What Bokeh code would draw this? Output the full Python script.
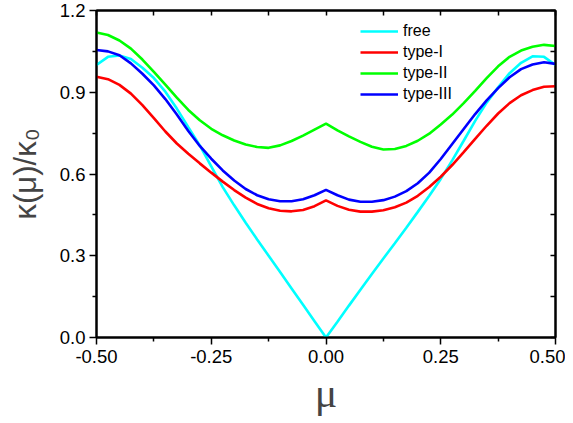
from bokeh.plotting import figure
from bokeh.models import (Range1d, LinearAxis, FixedTicker, PrintfTickFormatter,
                          Legend, LegendItem)
from bokeh.embed import file_html
from bokeh.resources import INLINE

# ---- data ----
mu = [-0.5, -0.475, -0.45, -0.425, -0.4, -0.375, -0.35, -0.325, -0.3, -0.275,
      -0.25, -0.225, -0.2, -0.175, -0.15, -0.125, -0.1, -0.075, -0.05, -0.025,
      0.0, 0.025, 0.05, 0.075, 0.1, 0.125, 0.15, 0.175, 0.2, 0.225,
      0.25, 0.275, 0.3, 0.325, 0.35, 0.375, 0.4, 0.425, 0.45, 0.475, 0.5]

free = [1.000, 1.030, 1.035, 1.022, 0.990, 0.952, 0.902, 0.840, 0.772, 0.705,
        0.628, 0.552, 0.485, 0.421, 0.360, 0.300, 0.240, 0.180, 0.120, 0.060,
        0.0, 0.058, 0.117, 0.175, 0.233, 0.290, 0.346, 0.403, 0.461, 0.520,
        0.582, 0.650, 0.722, 0.795, 0.862, 0.918, 0.970, 1.008, 1.032, 1.030, 1.000]

type_I = [0.957, 0.948, 0.927, 0.895, 0.853, 0.805, 0.756, 0.712, 0.674, 0.639,
          0.605, 0.572, 0.541, 0.513, 0.490, 0.474, 0.465, 0.463, 0.468, 0.482,
          0.503, 0.483, 0.469, 0.462, 0.462, 0.467, 0.478, 0.495, 0.520, 0.552,
          0.590, 0.633, 0.680, 0.729, 0.777, 0.822, 0.860, 0.889, 0.908, 0.920, 0.922]

type_II = [1.119, 1.110, 1.090, 1.060, 1.020, 0.975, 0.928, 0.880, 0.835, 0.797,
           0.766, 0.742, 0.723, 0.708, 0.699, 0.696, 0.705, 0.721, 0.741, 0.763,
           0.785, 0.760, 0.738, 0.718, 0.700, 0.690, 0.692, 0.703, 0.722, 0.748,
           0.782, 0.818, 0.860, 0.905, 0.952, 0.995, 1.030, 1.053, 1.067, 1.074, 1.070]

type_III = [1.055, 1.050, 1.036, 1.006, 0.968, 0.925, 0.875, 0.818, 0.758, 0.703,
            0.656, 0.613, 0.576, 0.545, 0.522, 0.507, 0.500, 0.500, 0.507, 0.522,
            0.542, 0.522, 0.506, 0.498, 0.498, 0.504, 0.517, 0.537, 0.566, 0.605,
            0.655, 0.710, 0.765, 0.820, 0.870, 0.915, 0.955, 0.985, 1.002, 1.010, 1.004]

x_ticks = [-0.5, -0.25, 0.0, 0.25, 0.5]
x_minor = [-0.375, -0.125, 0.125, 0.375]
y_ticks = [0.0, 0.3, 0.6, 0.9, 1.2]
y_minor = [0.15, 0.45, 0.75, 1.05]

series = [("free", free, "#00FFFF"), ("type-I", type_I, "#FF0000"),
          ("type-II", type_II, "#00FF00"), ("type-III", type_III, "#0000FF")]

FONT = "Liberation Sans"

p = figure(width=565, height=418, output_backend="svg", toolbar_location=None,
           x_range=Range1d(-0.5, 0.5), y_range=Range1d(0.0, 1.2),
           x_axis_location=None, y_axis_location=None,
           min_border_left=96, min_border_right=10, min_border_top=10,
           min_border_bottom=78)
p.xgrid.visible = False
p.ygrid.visible = False
p.outline_line_color = "black"
p.outline_line_width = 2
p.background_fill_color = "white"
p.border_fill_color = "white"

def style_axis(ax, inward=False):
    ax.axis_line_color = "black"
    ax.axis_line_width = 2
    ax.major_tick_line_color = "black"
    ax.minor_tick_line_color = "black"
    ax.major_tick_line_width = 1.5
    ax.minor_tick_line_width = 1.5
    if inward:
        ax.major_tick_in = 5
        ax.major_tick_out = 0
        ax.minor_tick_in = 5
        ax.minor_tick_out = 0
    else:
        ax.major_tick_in = 0
        ax.major_tick_out = 7
        ax.minor_tick_in = 0
        ax.minor_tick_out = 4
    ax.major_label_text_font = FONT
    ax.major_label_text_color = "black"
    ax.major_label_text_font_size = "18.5px"

xb = LinearAxis(ticker=FixedTicker(ticks=x_ticks, minor_ticks=x_minor),
                formatter=PrintfTickFormatter(format="%.2f"))
style_axis(xb)
xb.major_label_standoff = 5
xb.axis_label = "μ"
xb.axis_label_text_font = "Liberation Serif"
xb.axis_label_text_font_style = "normal"
xb.axis_label_text_font_size = "42px"
xb.axis_label_standoff = 4
p.add_layout(xb, "below")

yl = LinearAxis(ticker=FixedTicker(ticks=y_ticks, minor_ticks=y_minor),
                formatter=PrintfTickFormatter(format="%.1f"))
style_axis(yl)
yl.major_label_standoff = 4
yl.axis_label = "κ(μ)/κ₀"
yl.axis_label_text_font = FONT
yl.axis_label_text_font_style = "normal"
yl.axis_label_text_font_size = "31px"
yl.axis_label_standoff = 14
p.add_layout(yl, "left")

# top and right axes: inward tick marks only, no labels
xt = LinearAxis(ticker=FixedTicker(ticks=[], minor_ticks=x_ticks + x_minor))
style_axis(xt, inward=True)
p.add_layout(xt, "above")

yr = LinearAxis(ticker=FixedTicker(ticks=[], minor_ticks=y_ticks + y_minor))
style_axis(yr, inward=True)
p.add_layout(yr, "right")

items = []
for name, vals, col in series:
    r = p.line(mu, vals, line_color=col, line_width=2.6)
    items.append(LegendItem(label=name, renderers=[r]))

leg = Legend(items=items, location=(264, 233))
leg.border_line_color = None
leg.background_fill_alpha = 0
leg.label_text_font = FONT
leg.label_text_font_size = "16px"
leg.label_text_color = "black"
leg.glyph_width = 38
leg.glyph_height = 20
leg.label_height = 20
leg.spacing = 1
leg.padding = 5
leg.label_standoff = 5
p.add_layout(leg, "center")

open("out.html", "w").write(file_html(p, INLINE))
